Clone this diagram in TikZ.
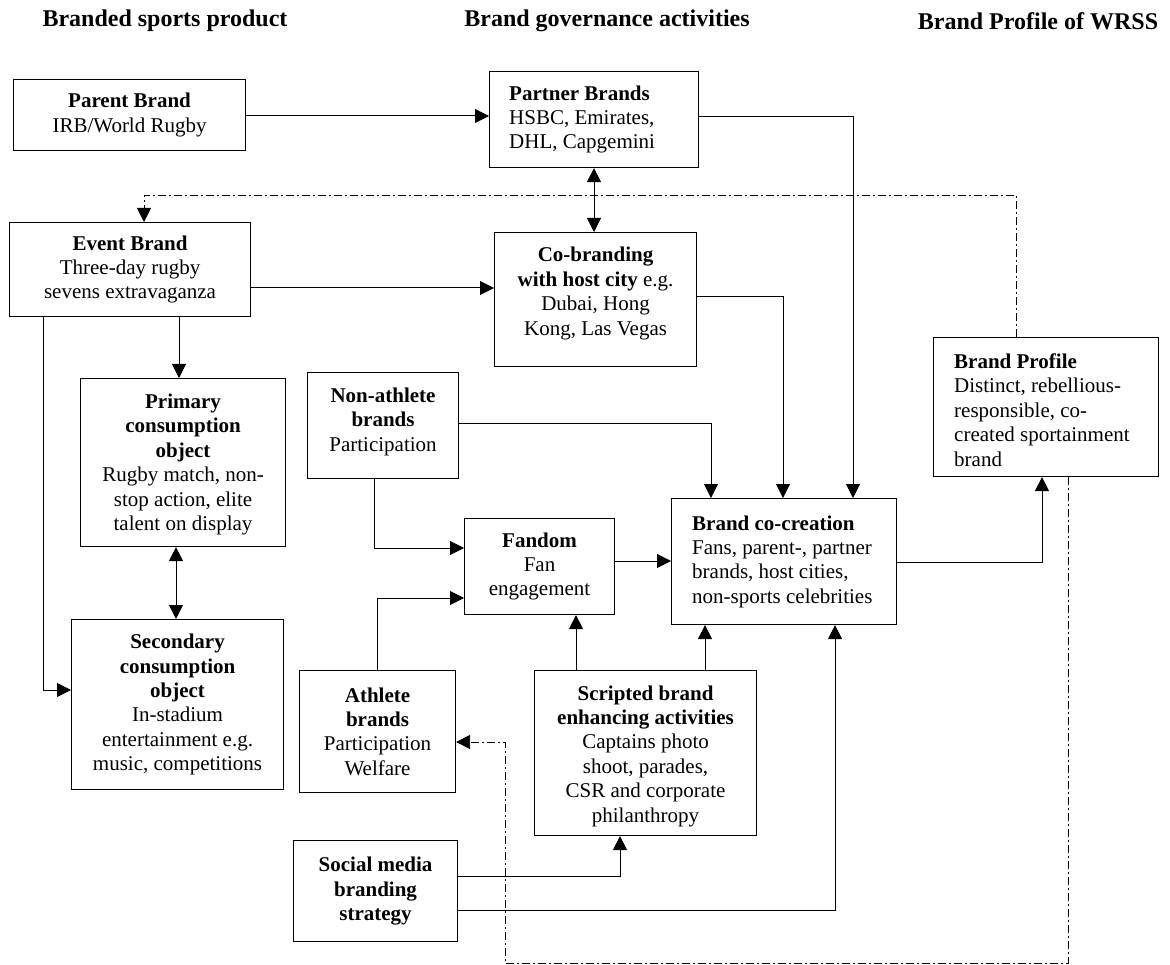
\documentclass[tikz,border=0pt]{standalone}
\usepackage{fontspec}
\setmainfont{Liberation Serif}
\usetikzlibrary{arrows.meta,calc}
\begin{document}
\begin{tikzpicture}[x=1pt,y=-1pt,
  box/.style={draw, line width=1.1pt, anchor=north west, inner sep=0pt},
  txt/.style={font=\fontsize{21pt}{24.4pt}\selectfont, align=center, inner sep=0pt},
  ltxt/.style={font=\fontsize{21pt}{24.4pt}\selectfont, align=left, inner sep=0pt, anchor=west},
  ttl/.style={font=\fontsize{24pt}{28pt}\selectfont\bfseries, inner sep=0pt, anchor=base},
  tip/.tip={Triangle[length=14pt,width=14pt]},
  con/.style={line width=1pt, -tip},
  dcon/.style={line width=1pt, tip-tip},
  dd/.style={line width=0.8pt, dash pattern=on 8pt off 3pt on 2pt off 3pt, -tip},
]
\useasboundingbox (0,0) rectangle (1170,965);

% titles
\node[ttl] (t1) at (165,27) {Branded sports product};
\node[ttl] (t2) at (607,27) {Brand governance activities};
\node[ttl] (t3) at (1038,30) {Brand Profile of WRSS};

% boxes
\node[box, minimum width=232pt, minimum height=71pt] (parent) at (13,79) {};
\node[box, minimum width=209pt, minimum height=96pt] (partner) at (489,71) {};
\node[box, minimum width=241pt, minimum height=94pt] (event) at (9,222) {};
\node[box, minimum width=202pt, minimum height=134pt] (cobrand) at (494,232) {};
\node[box, minimum width=205pt, minimum height=168pt] (primary) at (80,378) {};
\node[box, minimum width=151pt, minimum height=106pt] (nonath) at (307,372) {};
\node[box, minimum width=150pt, minimum height=96pt] (fandom) at (464,518) {};
\node[box, minimum width=225pt, minimum height=126pt] (cocre) at (671,498) {};
\node[box, minimum width=225pt, minimum height=139pt] (profile) at (933,337) {};
\node[box, minimum width=212pt, minimum height=170pt] (secondary) at (71,619) {};
\node[box, minimum width=156pt, minimum height=122pt] (athlete) at (299,670) {};
\node[box, minimum width=222pt, minimum height=165pt] (scripted) at (534,670) {};
\node[box, minimum width=164pt, minimum height=101pt] (social) at (293,840) {};

% texts
\node[txt] (parent-t) at (parent.center) {\textbf{Parent Brand}\\IRB/World Rugby};
\node[ltxt] (partner-t) at ($(partner.west)+(20,0)$) {\textbf{Partner Brands}\\HSBC, Emirates,\\DHL, Capgemini};
\node[txt] (event-t) at (event.center) {\textbf{Event Brand}\\Three-day rugby\\sevens extravaganza};
\node[txt] (cobrand-t) at ($(cobrand.center)+(0,-6)$) {\textbf{Co-branding}\\\textbf{with host city} e.g.\\Dubai, Hong\\Kong, Las Vegas};
\node[txt] (primary-t) at ($(primary.center)+(0,2)$) {\textbf{Primary}\\\textbf{consumption}\\\textbf{object}\\Rugby match, non-\\stop action, elite\\talent on display};
\node[txt] (nonath-t) at ($(nonath.center)+(0,-4)$) {\textbf{Non-athlete}\\\textbf{brands}\\Participation};
\node[txt] (fandom-t) at (fandom.center) {\textbf{Fandom}\\Fan\\engagement};
\node[ltxt] (cocre-t) at ($(cocre.west)+(21,0)$) {\textbf{Brand co-creation}\\Fans, parent-, partner\\brands, host cities,\\non-sports celebrities};
\node[ltxt] (profile-t) at ($(profile.west)+(21,3)$) {\textbf{Brand Profile}\\Distinct, rebellious-\\responsible, co-\\created sportainment\\brand};
\node[txt] (secondary-t) at (secondary.center) {\textbf{Secondary}\\\textbf{consumption}\\\textbf{object}\\In-stadium\\entertainment e.g.\\music, competitions};
\node[txt] (athlete-t) at (athlete.center) {\textbf{Athlete}\\\textbf{brands}\\Participation\\Welfare};
\node[txt] (scripted-t) at ($(scripted.center)+(0,3)$) {\textbf{Scripted brand}\\\textbf{enhancing activities}\\Captains photo\\shoot, parades,\\CSR and corporate\\philanthropy};
\node[txt] (social-t) at (social.center) {\textbf{Social media}\\\textbf{branding}\\\textbf{strategy}};

% helper coordinates
\coordinate (pp) at (0,116);
\coordinate (pc) at (853,117);
\coordinate (pb) at (594,0);
\coordinate (dt1) at (1016,195);
\coordinate (dt2) at (144,195);
\coordinate (ec) at (0,288);
\coordinate (ep) at (179,0);
\coordinate (es) at (43,690);
\coordinate (ps) at (176,0);
\coordinate (cc) at (783,297);
\coordinate (nc) at (711,423);
\coordinate (nf) at (374,548);
\coordinate (af) at (377,598);
\coordinate (fc) at (0,561);
\coordinate (sf) at (576,0);
\coordinate (sc) at (705,0);
\coordinate (cp) at (1042,562);
\coordinate (ss) at (620,876);
\coordinate (sco) at (835,910);
\coordinate (d1) at (1068,963);
\coordinate (d2) at (505,742);

% connectors
\draw[con] (parent.east |- pp) -- (partner.west |- pp);
\draw[con] (partner.east |- pc) -| (cocre.north -| pc);
\draw[dcon] (partner.south -| pb) -- (cobrand.north -| pb);
\draw[dd] (profile.north -| dt1) |- (dt2) -- (event.north -| dt2);
\draw[con] (event.east |- ec) -- (cobrand.west |- ec);
\draw[con] (event.south -| ep) -- (primary.north -| ep);
\draw[con] (event.south -| es) |- (secondary.west |- es);
\draw[dcon] (primary.south -| ps) -- (secondary.north -| ps);
\draw[con] (cobrand.east |- cc) -| (cocre.north -| cc);
\draw[con] (nonath.east |- nc) -| (cocre.north -| nc);
\draw[con] (nonath.south -| nf) |- (fandom.west |- nf);
\draw[con] (athlete.north -| af) |- (fandom.west |- af);
\draw[con] (fandom.east |- fc) -- (cocre.west |- fc);
\draw[con] (scripted.north -| sf) -- (fandom.south -| sf);
\draw[con] (scripted.north -| sc) -- (cocre.south -| sc);
\draw[con] (cocre.east |- cp) -| (profile.south -| cp);
\draw[con] (social.east |- ss) -| (scripted.south -| ss);
\draw[con] (social.east |- sco) -| (cocre.south -| sco);
\draw[dd] (profile.south -| d1) -- (d1) -| (d2) -- (athlete.east |- d2);
\end{tikzpicture}
\end{document}
